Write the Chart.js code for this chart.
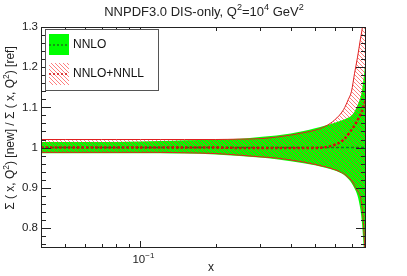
<!DOCTYPE html>
<html>
<head>
<meta charset="utf-8">
<script src="https://cdn.jsdelivr.net/npm/chart.js@4/dist/chart.umd.min.js"></script>
<style>
  body { margin: 0; background: #fff; }
  canvas { display: block; }
</style>
</head>
<body>
<canvas id="myChart" width="407" height="276"></canvas>
<script>
// x grid (log axis)
const xValues = [0.04, 0.05, 0.06, 0.07, 0.08, 0.1, 0.12, 0.15, 0.2, 0.25, 0.3, 0.35, 0.4, 0.45, 0.5, 0.55, 0.6, 0.65, 0.68, 0.7, 0.72, 0.74, 0.76, 0.77, 0.78, 0.79, 0.8];

// NNLO band (green)
const nnloUpper   = [1.014, 1.014, 1.014, 1.014, 1.014, 1.015, 1.016, 1.018, 1.020, 1.022, 1.026, 1.030, 1.035, 1.041, 1.048, 1.055, 1.062, 1.069, 1.075, 1.080, 1.090, 1.105, 1.125, 1.140, 1.165, 1.195, 1.230];
const nnloLower   = [0.986, 0.986, 0.986, 0.986, 0.986, 0.986, 0.986, 0.985, 0.983, 0.979, 0.975, 0.971, 0.966, 0.961, 0.956, 0.950, 0.943, 0.933, 0.922, 0.912, 0.898, 0.880, 0.845, 0.815, 0.770, 0.720, 0.680];
const nnloCentral = [1.000, 1.000, 1.000, 1.000, 1.000, 1.000, 1.000, 1.000, 1.000, 1.000, 1.000, 1.000, 1.000, 1.000, 1.000, 1.000, 1.000, 1.000, 1.000, 1.000, 1.000, 1.000, 1.000, 1.000, 1.000, 1.000, 1.000];

// NNLO+NNLL band (red hatched)
const nnllUpper   = [1.020, 1.020, 1.020, 1.020, 1.020, 1.020, 1.020, 1.020, 1.020, 1.021, 1.022, 1.026, 1.031, 1.037, 1.043, 1.053, 1.069, 1.094, 1.120, 1.140, 1.185, 1.225, 1.270, 1.290, 1.315, 1.340, 1.370];
const nnllLower   = [0.988, 0.988, 0.988, 0.988, 0.988, 0.988, 0.988, 0.987, 0.985, 0.981, 0.977, 0.974, 0.969, 0.964, 0.958, 0.952, 0.945, 0.935, 0.925, 0.918, 0.905, 0.892, 0.877, 0.855, 0.820, 0.755, 0.690];
const nnllCentral = [1.000, 1.000, 1.000, 1.000, 1.000, 1.000, 1.000, 1.000, 1.000, 0.999, 0.999, 0.999, 0.999, 0.999, 0.999, 1.001, 1.007, 1.019, 1.033, 1.044, 1.055, 1.068, 1.082, 1.090, 1.100, 1.110, 1.120];

// axis ticks
const yMajorTicks = [0.8, 0.9, 1.0, 1.1, 1.2, 1.3];
const yTickLabels = ['0.8', '0.9', '1', '1.1', '1.2', '1.3'];
const yMinorTicks = [0.76, 0.78, 0.82, 0.84, 0.86, 0.88, 0.92, 0.94, 0.96, 0.98, 1.02, 1.04, 1.06, 1.08, 1.12, 1.14, 1.16, 1.18, 1.22, 1.24, 1.26, 1.28];
const xMajorTicks = [0.1];
const xMinorTicks = [0.05, 0.06, 0.07, 0.08, 0.09, 0.2, 0.3, 0.4, 0.5, 0.6, 0.7];

const FONT = '"Liberation Sans", Arial, sans-serif';

const pts = (arr) => xValues.map((x, i) => ({ x: x, y: arr[i] }));

function makeHatch() {
  const c = document.createElement('canvas');
  c.width = 4; c.height = 4;
  const g = c.getContext('2d');
  g.strokeStyle = 'rgba(255,40,40,0.6)';
  g.lineWidth = 1;
  g.beginPath();
  g.moveTo(-1, -1); g.lineTo(5, 5);
  g.moveTo(-1, 3); g.lineTo(1, 5);
  g.moveTo(3, -1); g.lineTo(5, 1);
  g.stroke();
  return g.createPattern(c, 'repeat');
}

// text with superscript pieces
function richText(ctx, parts, x, y, size, align) {
  let w = 0;
  parts.forEach(p => {
    ctx.font = (p.sup ? size * 0.7 : size) + 'px ' + FONT;
    w += ctx.measureText(p.t).width;
  });
  let cx = align === 'center' ? x - w / 2 : (align === 'right' ? x - w : x);
  ctx.textAlign = 'left';
  ctx.textBaseline = 'middle';
  parts.forEach(p => {
    ctx.font = (p.sup ? size * 0.7 : size) + 'px ' + FONT;
    ctx.fillText(p.t, cx, p.sup ? y - size * 0.38 : y);
    cx += ctx.measureText(p.t).width;
  });
}

const hatch = makeHatch();

const decor = {
  id: 'decor',
  afterDraw(chart) {
    const ctx = chart.ctx;
    const a = chart.chartArea;
    const xs = chart.scales.x, ys = chart.scales.y;
    ctx.save();
    ctx.strokeStyle = '#222';
    ctx.lineWidth = 1;
    ctx.strokeRect(a.left + 0.5, a.top + 0.5, a.right - a.left - 1, a.bottom - a.top - 1);

    ctx.beginPath();
    yMajorTicks.forEach(v => {
      const py = Math.round(ys.getPixelForValue(v)) + 0.5;
      ctx.moveTo(a.left, py); ctx.lineTo(a.left + 10, py);
      ctx.moveTo(a.right, py); ctx.lineTo(a.right - 10, py);
    });
    yMinorTicks.forEach(v => {
      const py = Math.round(ys.getPixelForValue(v)) + 0.5;
      ctx.moveTo(a.left, py); ctx.lineTo(a.left + 5, py);
      ctx.moveTo(a.right, py); ctx.lineTo(a.right - 5, py);
    });
    xMajorTicks.forEach(v => {
      const px = Math.round(xs.getPixelForValue(v)) + 0.5;
      ctx.moveTo(px, a.bottom); ctx.lineTo(px, a.bottom - 7);
      ctx.moveTo(px, a.top); ctx.lineTo(px, a.top + 7);
    });
    xMinorTicks.forEach(v => {
      const px = Math.round(xs.getPixelForValue(v)) + 0.5;
      ctx.moveTo(px, a.bottom); ctx.lineTo(px, a.bottom - 4);
      ctx.moveTo(px, a.top); ctx.lineTo(px, a.top + 4);
    });
    ctx.stroke();

    ctx.fillStyle = '#222';
    ctx.font = '11.5px ' + FONT;
    ctx.textAlign = 'right';
    ctx.textBaseline = 'middle';
    yMajorTicks.forEach((v, i) => {
      ctx.fillText(yTickLabels[i], a.left - 3, ys.getPixelForValue(v));
    });
    richText(ctx, [{ t: '10' }, { t: '\u22121', sup: true }], xs.getPixelForValue(0.1) + 3, 260, 11.5, 'center');
    ctx.font = '12px ' + FONT;
    ctx.textAlign = 'center';
    ctx.fillText('x', 211, 268);

    richText(ctx, [{ t: 'NNPDF3.0 DIS-only, Q' }, { t: '2', sup: true }, { t: '=10' }, { t: '4', sup: true }, { t: ' GeV' }, { t: '2', sup: true }], 204, 12, 13, 'center');

    ctx.save();
    ctx.translate(11, 128);
    ctx.rotate(-Math.PI / 2);
    richText(ctx, [{ t: '\u03A3 ( x, Q' }, { t: '2', sup: true }, { t: ') [new] / \u03A3 ( x, Q' }, { t: '2', sup: true }, { t: ') [ref]' }], 0, 0, 12, 'center');
    ctx.restore();

    // legend
    ctx.fillStyle = '#fff';
    ctx.fillRect(45, 29, 114, 61);
    ctx.strokeStyle = '#555';
    ctx.strokeRect(45.5, 29.5, 113, 61);
    ctx.fillStyle = '#00ff00';
    ctx.fillRect(49, 34, 20, 21);
    ctx.strokeStyle = '#1a7a1a';
    ctx.lineWidth = 1.5;
    ctx.setLineDash([2, 2]);
    ctx.beginPath(); ctx.moveTo(49, 45); ctx.lineTo(69, 45); ctx.stroke();
    ctx.setLineDash([]);
    ctx.fillStyle = hatch;
    ctx.fillRect(49, 63, 20, 22);
    ctx.strokeStyle = '#d01010';
    ctx.lineWidth = 1.5;
    ctx.setLineDash([2, 2]);
    ctx.beginPath(); ctx.moveTo(49, 74); ctx.lineTo(69, 74); ctx.stroke();
    ctx.setLineDash([]);
    ctx.fillStyle = '#111';
    ctx.font = '12px ' + FONT;
    ctx.textAlign = 'left';
    ctx.textBaseline = 'middle';
    ctx.fillText('NNLO', 73, 45);
    ctx.fillText('NNLO+NNLL', 73, 74);
    ctx.restore();
  }
};

const data = {
  datasets: [
    { label: 'NNLO up', data: pts(nnloUpper), fill: '+1', backgroundColor: '#00ff00', borderWidth: 0, order: 10 },
    { label: 'NNLO low', data: pts(nnloLower), fill: false, borderWidth: 0, order: 9 },
    { label: 'NNLL up', data: pts(nnllUpper), fill: '+1', backgroundColor: hatch, borderColor: '#e02020', borderWidth: 1, order: 8 },
    { label: 'NNLL low', data: pts(nnllLower), fill: false, borderColor: '#e02020', borderWidth: 1, order: 7 },
    { label: 'NNLO', data: pts(nnloCentral), fill: false, borderColor: '#1a7a1a', borderWidth: 1.5, borderDash: [3, 2], order: 2 },
    { label: 'NNLO+NNLL', data: pts(nnllCentral), fill: false, borderColor: '#d01010', borderWidth: 2.5, borderDash: [2.5, 2], order: 1 }
  ]
};

const config = {
  type: 'line',
  data: data,
  options: {
    responsive: false,
    animation: false,
    events: [],
    elements: { point: { radius: 0 }, line: { cubicInterpolationMode: 'monotone' } },
    layout: { padding: { left: 41, right: 41, top: 27, bottom: 28 } },
    scales: {
      x: { type: 'logarithmic', min: 0.04, max: 0.8, display: false },
      y: { type: 'linear', min: 0.75, max: 1.3, display: false }
    },
    plugins: { legend: { display: false }, tooltip: { enabled: false }, title: { display: false } }
  },
  plugins: [decor]
};

const myChart = new Chart(document.getElementById('myChart').getContext('2d'), config);
</script>
</body>
</html>
